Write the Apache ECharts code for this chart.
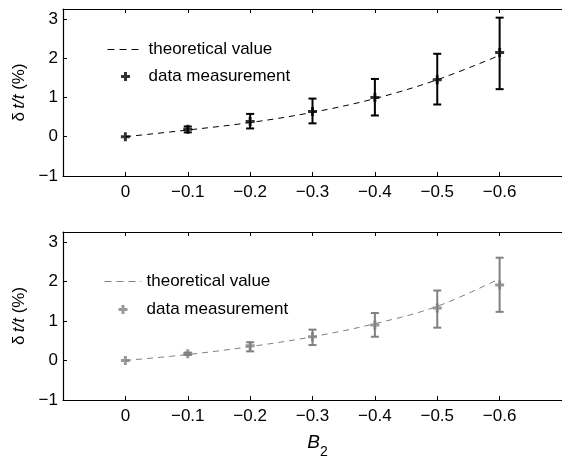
<!DOCTYPE html>
<html>
<head>
<meta charset="utf-8">
<script src="https://cdn.jsdelivr.net/npm/echarts@6/dist/echarts.min.js"></script>
<style>html,body{margin:0;padding:0;background:#fff}#c{width:562px;height:464px}</style>
</head>
<body>
<div id="c"></div>
<script>
// B2 values (x)
const B2 = [0, -0.1, -0.2, -0.3, -0.4, -0.5, -0.6];
const xTicks = [0, -0.1, -0.2, -0.3, -0.4, -0.5, -0.6];
// Top panel (black)
const theoryTop = [0, 0.17, 0.36, 0.62, 0.97, 1.45, 2.07];
const measTop = [0, 0.19, 0.39, 0.64, 1.00, 1.45, 2.14];
const errLowTop = [0, 0.11, 0.21, 0.34, 0.54, 0.82, 1.21];
const errHighTop = [0, 0.26, 0.58, 0.97, 1.47, 2.11, 3.03];
// Bottom panel (gray)
const theoryBot = [0, 0.15, 0.35, 0.60, 0.93, 1.37, 2.07];
const measBot = [0, 0.17, 0.37, 0.60, 0.90, 1.33, 1.91];
const errLowBot = [0, 0.14, 0.23, 0.39, 0.60, 0.83, 1.23];
const errHighBot = [0, 0.20, 0.46, 0.78, 1.20, 1.77, 2.60];

const FONT = 'Liberation Sans, Arial, Helvetica, sans-serif';
const PLUS = 'path://M3,0H6V3H9V6H6V9H3V6H0V3H3Z';
const BLACK = '#000000';
const GRAY = '#808080';
const minus = v => String(v).replace('-', '\u2212');

function pairs(ys) { return B2.map((x, i) => [x, ys[i]]); }
function errData(lo, hi) { return B2.map((x, i) => [x, lo[i], hi[i]]); }

function errRender(color) {
  return function (params, api) {
    const lo = api.coord([api.value(0), api.value(1)]);
    const hi = api.coord([api.value(0), api.value(2)]);
    if (Math.abs(lo[1] - hi[1]) < 0.5) return;
    const w = 4;
    const st = { stroke: color, lineWidth: 2 };
    return {
      type: 'group',
      children: [
        { type: 'line', shape: { x1: lo[0], y1: lo[1], x2: hi[0], y2: hi[1] }, style: st },
        { type: 'line', shape: { x1: lo[0] - w, y1: lo[1], x2: lo[0] + w, y2: lo[1] }, style: st },
        { type: 'line', shape: { x1: hi[0] - w, y1: hi[1], x2: hi[0] + w, y2: hi[1] }, style: st }
      ]
    };
  };
}

const grids = [
  { left: 63, top: 9, width: 506, height: 167 },
  { left: 63, top: 232, width: 506, height: 168 }
];

function xAxes(gi, withName) {
  return [
    {
      type: 'value', gridIndex: gi, inverse: true, min: -0.7, max: 0.1,
      axisLine: { onZero: false, lineStyle: { color: '#000', width: 1.2 } },
      axisTick: { inside: true, length: 4, customValues: xTicks, lineStyle: { color: '#000' } },
      axisLabel: { customValues: xTicks, formatter: minus, color: '#000', fontSize: 17, fontFamily: FONT, margin: 8 },
      splitLine: { show: false },
      name: withName ? '{b|B}{s|2}' : '',
      nameLocation: 'middle', nameGap: 33,
      nameTextStyle: {
        rich: {
          b: { fontSize: 19, fontStyle: 'italic', fontFamily: FONT, color: '#000', lineHeight: 26, verticalAlign: 'top', padding: [0, 0, 0, 10] },
          s: { fontSize: 14, fontFamily: FONT, color: '#000', lineHeight: 26, verticalAlign: 'bottom' }
        }
      }
    },
    {
      type: 'value', gridIndex: gi, position: 'top', inverse: true, min: -0.7, max: 0.1,
      axisLine: { onZero: false, lineStyle: { color: '#000', width: 1.2 } },
      axisTick: { inside: true, length: 4, customValues: xTicks, lineStyle: { color: '#000' } },
      axisLabel: { show: false },
      splitLine: { show: false }
    }
  ];
}

function yAxis(gi) {
  return {
    type: 'value', gridIndex: gi, min: -1, max: 3.25, interval: 1,
    axisLine: { show: true, onZero: false, lineStyle: { color: '#000', width: 1.2 } },
    axisTick: { show: true, inside: true, length: 4, lineStyle: { color: '#000' } },
    axisLabel: {
      color: '#000', fontSize: 17, fontFamily: FONT, margin: 5,
      formatter: v => (Math.abs(v - Math.round(v)) < 1e-9 ? minus(Math.round(v)) : '')
    },
    splitLine: { show: false },
    name: '{d|\u03b4\u2009}{t|t/t}{d| (%)}',
    nameLocation: 'middle', nameGap: 32,
    nameTextStyle: {
      rich: {
        d: { fontSize: 17, fontFamily: FONT, color: '#000' },
        t: { fontSize: 17, fontFamily: FONT, fontStyle: 'italic', color: '#000' }
      }
    }
  };
}

const names = {
  theo1: 'theoretical value', meas1: 'data measurement',
  theo2: 'theoretical value', meas2: 'data measurement'
};

const option = {
  backgroundColor: '#fff',
  animation: false,
  grid: grids,
  xAxis: [...xAxes(0, false), ...xAxes(1, true)],
  yAxis: [yAxis(0), yAxis(1)],
  legend: [
    {
      data: [{ name: 'theo1', itemStyle: { opacity: 0 } }, 'meas1'],
      orient: 'vertical', left: 102, top: 36,
      itemWidth: 36, itemHeight: 9, itemGap: 10,
      lineStyle: { type: [7, 5], width: 1 },
      formatter: n => names[n],
      textStyle: { fontSize: 17, fontFamily: FONT, color: '#000' },
      selectedMode: false
    },
    {
      data: [{ name: 'theo2', itemStyle: { opacity: 0 } }, 'meas2'],
      orient: 'vertical', left: 99, top: 268,
      itemWidth: 37, itemHeight: 9, itemGap: 11,
      lineStyle: { type: [7, 5], width: 1 },
      formatter: n => names[n],
      textStyle: { fontSize: 17, fontFamily: FONT, color: '#000' },
      selectedMode: false
    }
  ],
  series: [
    {
      name: 'theo1', type: 'line', xAxisIndex: 0, yAxisIndex: 0,
      data: pairs(theoryTop), smooth: 0.35, symbol: 'none',
      lineStyle: { color: BLACK, width: 1, type: [6, 5] }, itemStyle: { color: BLACK }, z: 2
    },
    {
      type: 'custom', xAxisIndex: 0, yAxisIndex: 0,
      data: errData(errLowTop, errHighTop), renderItem: errRender(BLACK), z: 3
    },
    {
      name: 'meas1', type: 'scatter', xAxisIndex: 0, yAxisIndex: 0,
      data: pairs(measTop), symbol: PLUS, symbolSize: 9,
      itemStyle: { color: BLACK }, z: 4
    },
    {
      name: 'theo2', type: 'line', xAxisIndex: 2, yAxisIndex: 1,
      data: pairs(theoryBot), smooth: 0.35, symbol: 'none',
      lineStyle: { color: GRAY, width: 1, type: [6, 5] }, itemStyle: { color: GRAY }, z: 2
    },
    {
      type: 'custom', xAxisIndex: 2, yAxisIndex: 1,
      data: errData(errLowBot, errHighBot), renderItem: errRender(GRAY), z: 3
    },
    {
      name: 'meas2', type: 'scatter', xAxisIndex: 2, yAxisIndex: 1,
      data: pairs(measBot), symbol: PLUS, symbolSize: 9,
      itemStyle: { color: GRAY }, z: 4
    }
  ]
};

const chart = echarts.init(document.getElementById('c'), null, { renderer: 'canvas' });
chart.setOption(option);
</script>
</body>
</html>
